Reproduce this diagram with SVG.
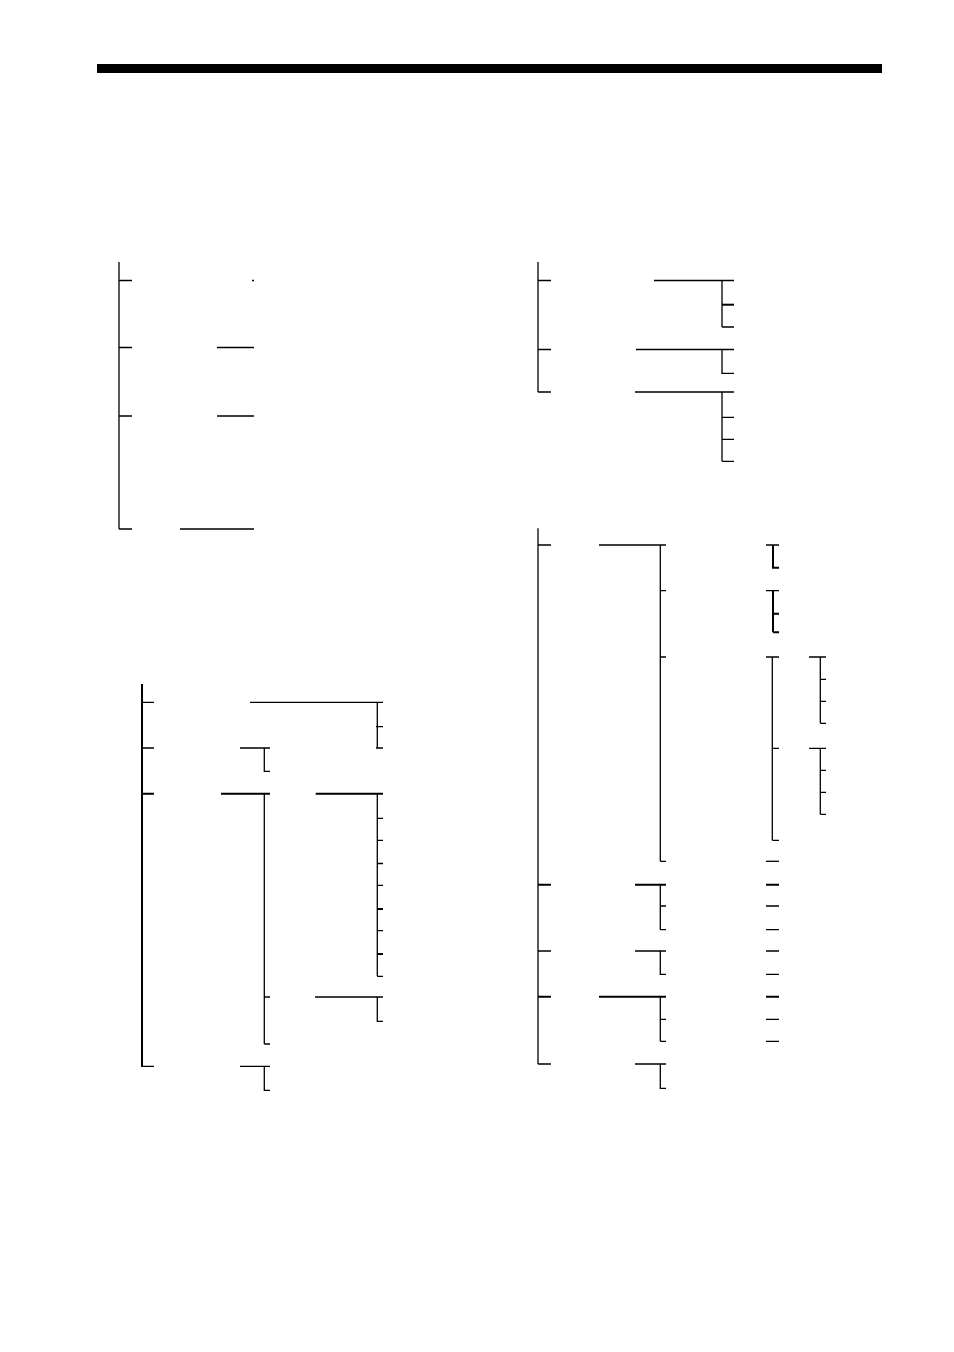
<svg xmlns="http://www.w3.org/2000/svg" width="954" height="1352" viewBox="0 0 954 1352">
<style>
.t{fill:none;stroke:#000;stroke-width:1.3}
.k{fill:none;stroke:#000;stroke-width:2}
</style>
<rect width="954" height="1352" fill="#fff"/>
<rect id="header-bar" x="97" y="64" width="785" height="9" fill="#000"/>
<g id="connectors">
<g id="tree-a">
<path class="t" d="M119,262V529M119,280.5H132M119,347.5H132M119,416H132M119,529H132M252,280.5H254M217,347.5H254M217,416H254M180,529H254"/>
</g>
<g id="tree-b">
<path class="t" d="M538,262V392M538,280.5H551M538,349.5H551M538,392H551"/>
<path class="t" d="M654,280.5H734M722,280.5V327M722,327H734M636,349.5H734M722,349.5V373.3H734M635,392H734M722,392V461.3M722,417.3H734M722,439.3H734M722,461.3H734"/>
<path class="k" d="M722,304.7H734"/>
</g>
<g id="tree-c">
<path class="k" d="M142,684V1067"/>
<path class="t" d="M142,702.3H154M142,748H154M142,1066.3H154"/>
<path class="k" d="M142,793.7H154M221,793.7H270M315.7,793.7H383M377.3,909H383M377.3,954H383"/>
<path class="t" d="M250,702.3H383M377.3,702.3V748M376,726.7H383M376,748H383M240,748H270M264.3,748V771.3H270M264.3,793.7V1044M264.3,997H270M264.3,1044H270M377.3,793.7V976.3M377.3,818.3H383M377.3,840.3H383M377.3,863.5H383M377.3,885.3H383M377.3,930.7H383M377.3,976.3H383M315,997H383M377.3,997V1021.3H383M240,1066.3H270M264.3,1066.3V1090.3H270"/>
</g>
<g id="tree-d">
<path class="t" d="M538,528.3V1064M538,545H551M538,951H551M538,1064H551"/>
<path class="k" d="M538,884.7H551M538,996.7H551"/>
<path class="t" d="M599,545H666M660.3,545V861.3M660.3,590.7H666M660.3,657H666M660.3,861.3H666"/>
<path class="t" d="M766,545H779M766,590.7H779M766,657H779M772.3,657V840.3M772.3,748.3H779M772.3,840.3H779"/>
<path class="k" d="M773,545V567.7H779M773,590.7V632.3M773,613.7H779M773,632.3H779"/>
<path class="t" d="M809,657H826M820.3,657V723.3M820.3,679.3H826M820.3,701.3H826M820.3,723.3H826M809,748.3H826M820.3,748.3V814.3M820.3,770.3H826M820.3,792.3H826M820.3,814.3H826"/>
<path class="t" d="M766,861.3H779"/>
<path class="k" d="M635,884.7H666M766,884.7H779M599,996.7H666M766,996.7H779"/>
<path class="t" d="M660.3,884.7V929.7M660.3,906H666M660.3,929.7H666M766,906H779M766,929.7H779M635,951H666M660.3,951V974.3H666M766,951H779M766,974.3H779M660.3,996.7V1041.3M660.3,1019.3H666M660.3,1041.3H666M766,1019.3H779M766,1041.3H779M635,1064H666M660.3,1064V1088.3H666"/>
</g>
</g>
</svg>
